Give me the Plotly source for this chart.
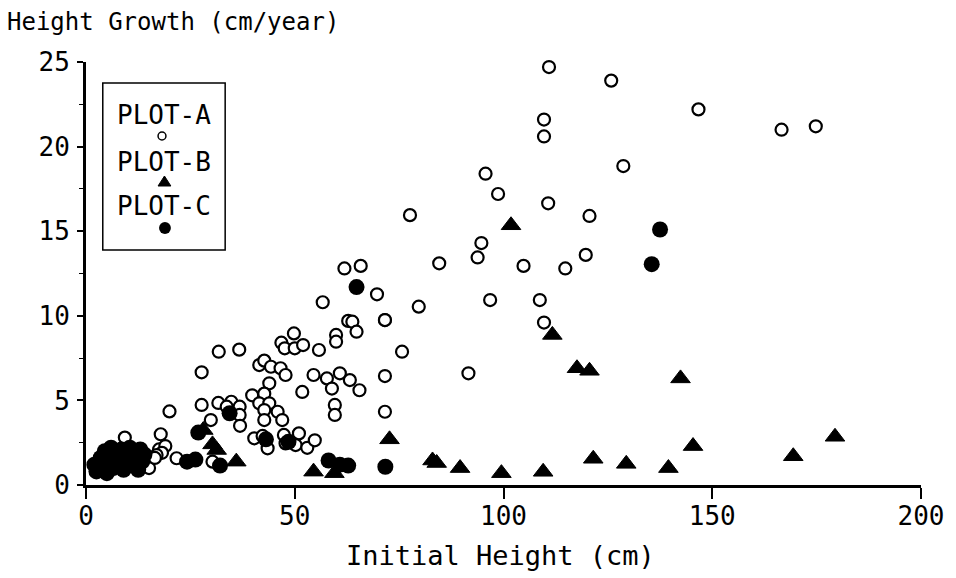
import plotly.graph_objects as go

# ---------------- data ----------------
plot_a_x = [110.9, 125.8, 146.7, 166.6, 174.8, 109.7, 109.7, 128.7, 95.7, 98.7,
            110.7, 120.6, 77.6, 94.7, 93.8, 119.7, 104.8, 114.8, 84.6, 61.9,
            65.8, 69.7, 56.7, 96.8, 108.7, 79.7, 109.7, 62.8, 63.8, 71.6,
            64.8, 59.9, 59.9, 49.8, 46.8, 47.6, 50.0, 52.0, 55.8, 75.7,
            31.8, 36.7, 27.7, 41.5, 42.7, 44.3, 46.6, 47.8, 43.9, 91.6,
            71.6, 54.5, 57.7, 60.8, 63.2, 58.9, 65.5, 51.8, 59.6, 59.6,
            71.6, 39.8, 42.7, 41.5, 43.9, 42.7, 45.9, 47.0, 42.7, 27.7,
            31.7, 34.8, 33.7, 36.8, 36.8, 29.9, 36.9, 20.0, 40.3, 43.5,
            47.4, 47.8, 51.0, 50.2, 53.0, 54.8, 42.3, 17.9, 17.5, 19.0,
            18.2, 16.9, 21.7, 30.3, 15.1, 9.3, 16.5, 71.6]
plot_a_y = [24.7, 23.9, 22.2, 21.0, 21.2, 21.6, 20.6, 18.85, 18.4, 17.2,
            16.65, 15.9, 15.95, 14.3, 13.45, 13.6, 12.95, 12.8, 13.1, 12.8,
            12.95, 11.27, 10.8, 10.93, 10.93, 10.54, 9.6, 9.7, 9.65, 9.75,
            9.06, 8.87, 8.47, 8.96, 8.41, 8.08, 8.08, 8.27, 7.98, 7.88,
            7.88, 8.0, 6.66, 7.09, 7.35, 6.99, 6.9, 6.5, 6.01, 6.6,
            6.44, 6.5, 6.3, 6.6, 6.2, 5.7, 5.6, 5.5, 4.73, 4.14,
            4.33, 5.3, 5.4, 4.83, 4.83, 4.43, 4.33, 3.84, 3.84, 4.73,
            4.85, 4.92, 4.63, 4.63, 4.14, 3.84, 3.5, 4.35, 2.76, 2.17,
            2.96, 2.46, 3.05, 2.36, 2.2, 2.64, 2.9, 3.0, 2.1, 2.3,
            1.9, 1.77, 1.58, 1.38, 1.0, 2.8, 1.6, 9.75]

plot_b_x = [101.8, 111.7, 117.6, 120.6, 142.4, 72.7, 145.4, 179.4, 169.4, 121.5,
            129.4, 139.5, 109.5, 99.5, 89.6, 83.0, 84.0, 54.5, 59.5, 36.0,
            28.1, 30.3, 31.3]
plot_b_y = [15.35, 8.87, 6.9, 6.75, 6.3, 2.7, 2.3, 2.85, 1.7, 1.55,
            1.25, 1.0, 0.78, 0.7, 1.0, 1.45, 1.3, 0.79, 0.7, 1.38,
            3.25, 2.4, 2.07]

plot_c_x = [137.5, 135.5, 64.8, 34.4, 43.1, 48.5, 26.9, 24.2, 26.2, 32.1,
            58.1, 60.8, 62.8, 71.7,
            2.0, 2.5, 3.5, 4.0, 4.5, 5.0, 5.5, 6.0, 6.5, 7.0,
            8.0, 8.5, 9.0, 10.0, 10.5, 11.0, 12.0, 12.5, 13.0, 13.5, 14.0]
plot_c_y = [15.1, 13.05, 11.7, 4.24, 2.7, 2.55, 3.1, 1.38, 1.5, 1.15,
            1.45, 1.2, 1.15, 1.08,
            1.2, 0.8, 1.6, 1.0, 2.0, 0.7, 1.4, 2.2, 1.0, 1.8,
            1.3, 2.1, 0.9, 1.6, 2.2, 1.2, 1.9, 0.9, 2.1, 1.4, 1.8]

x_ticks = [0, 50, 100, 150, 200]
y_ticks = [0, 5, 10, 15, 20, 25]
series_names = ["PLOT-A", "PLOT-B", "PLOT-C"]

# ---------------- layout geometry ----------------
W, H = 956, 578
ML, MR, MT, MB = 86, 24, 62, 93
PW, PH = W - ML - MR, H - MT - MB
FONT = "DejaVu Sans Mono"


def px(x):
    return (x - ML) / PW


def py(y):
    return (H - MB - y) / PH


fig = go.Figure()
fig.add_trace(go.Scatter(x=plot_a_x, y=plot_a_y, mode="markers", name=series_names[0],
                         cliponaxis=False,
                         marker=dict(symbol="circle", size=12, color="white",
                                     line=dict(color="black", width=2.2))))
fig.add_trace(go.Scatter(x=plot_b_x, y=plot_b_y, mode="markers", name=series_names[1],
                         cliponaxis=False,
                         marker=dict(symbol="triangle-up", size=17, color="black",
                                     line=dict(color="black", width=1))))
fig.add_trace(go.Scatter(x=plot_c_x, y=plot_c_y, mode="markers", name=series_names[2],
                         cliponaxis=False,
                         marker=dict(symbol="circle", size=16, color="black",
                                     line=dict(color="black", width=0))))

fig.update_layout(
    width=W, height=H,
    margin=dict(l=ML, r=MR, t=MT, b=MB),
    paper_bgcolor="white", plot_bgcolor="white",
    showlegend=False,
    font=dict(family=FONT, size=26, color="black"),
)
fig.update_xaxes(range=[0, 200], tickvals=x_ticks, ticktext=[str(v) for v in x_ticks],
                 showgrid=False, zeroline=False, showline=True, linecolor="black",
                 linewidth=3, ticks="outside", ticklen=11, tickwidth=1.5, tickcolor="black",
                 tickfont=dict(family=FONT, size=26), ticklabelstandoff=-5, fixedrange=True)
fig.update_yaxes(range=[0, 25], tickvals=y_ticks, ticktext=[str(v) for v in y_ticks],
                 showgrid=False, zeroline=False, showline=True, linecolor="black",
                 linewidth=3, ticks="outside", ticklen=6, tickwidth=1.5, tickcolor="black",
                 tickfont=dict(family=FONT, size=26), ticklabelstandoff=2,
                 minor=dict(dtick=2.5, ticks="outside", ticklen=4, tickwidth=1, tickcolor="black"),
                 fixedrange=True)

# titles
fig.add_annotation(text="Height Growth (cm/year)", xref="paper", yref="paper",
                   x=px(4), y=py(22), xanchor="left", yanchor="middle", showarrow=False,
                   font=dict(family=FONT, size=24, color="black"))
fig.add_annotation(text="Initial Height (cm)", xref="paper", yref="paper",
                   x=px(506), y=py(555), xanchor="center", yanchor="middle", showarrow=False,
                   font=dict(family=FONT, size=27, color="black"))

# legend box
fig.add_shape(type="rect", xref="paper", yref="paper",
              x0=px(103), x1=px(227), y0=py(250), y1=py(83),
              line=dict(color="black", width=1.5), fillcolor="rgba(0,0,0,0)")
for name, cy in zip(series_names, [115, 162, 206]):
    fig.add_annotation(text=name, xref="paper", yref="paper", x=px(165), y=py(cy),
                       xanchor="center", yanchor="middle", showarrow=False,
                       font=dict(family=FONT, size=26, color="black"))
# legend symbols
fig.add_shape(type="circle", xref="paper", yref="paper",
              x0=px(159), x1=px(167), y0=py(140), y1=py(132),
              line=dict(color="black", width=1.5), fillcolor="white")
fig.add_shape(type="path", xref="paper", yref="paper",
              path=f"M {px(159)} {py(186)} L {px(172)} {py(186)} L {px(165.5)} {py(176)} Z",
              line=dict(color="black", width=1), fillcolor="black")
fig.add_shape(type="circle", xref="paper", yref="paper",
              x0=px(160), x1=px(172), y0=py(234), y1=py(222),
              line=dict(color="black", width=0), fillcolor="black")

fig.write_html("out.html")
